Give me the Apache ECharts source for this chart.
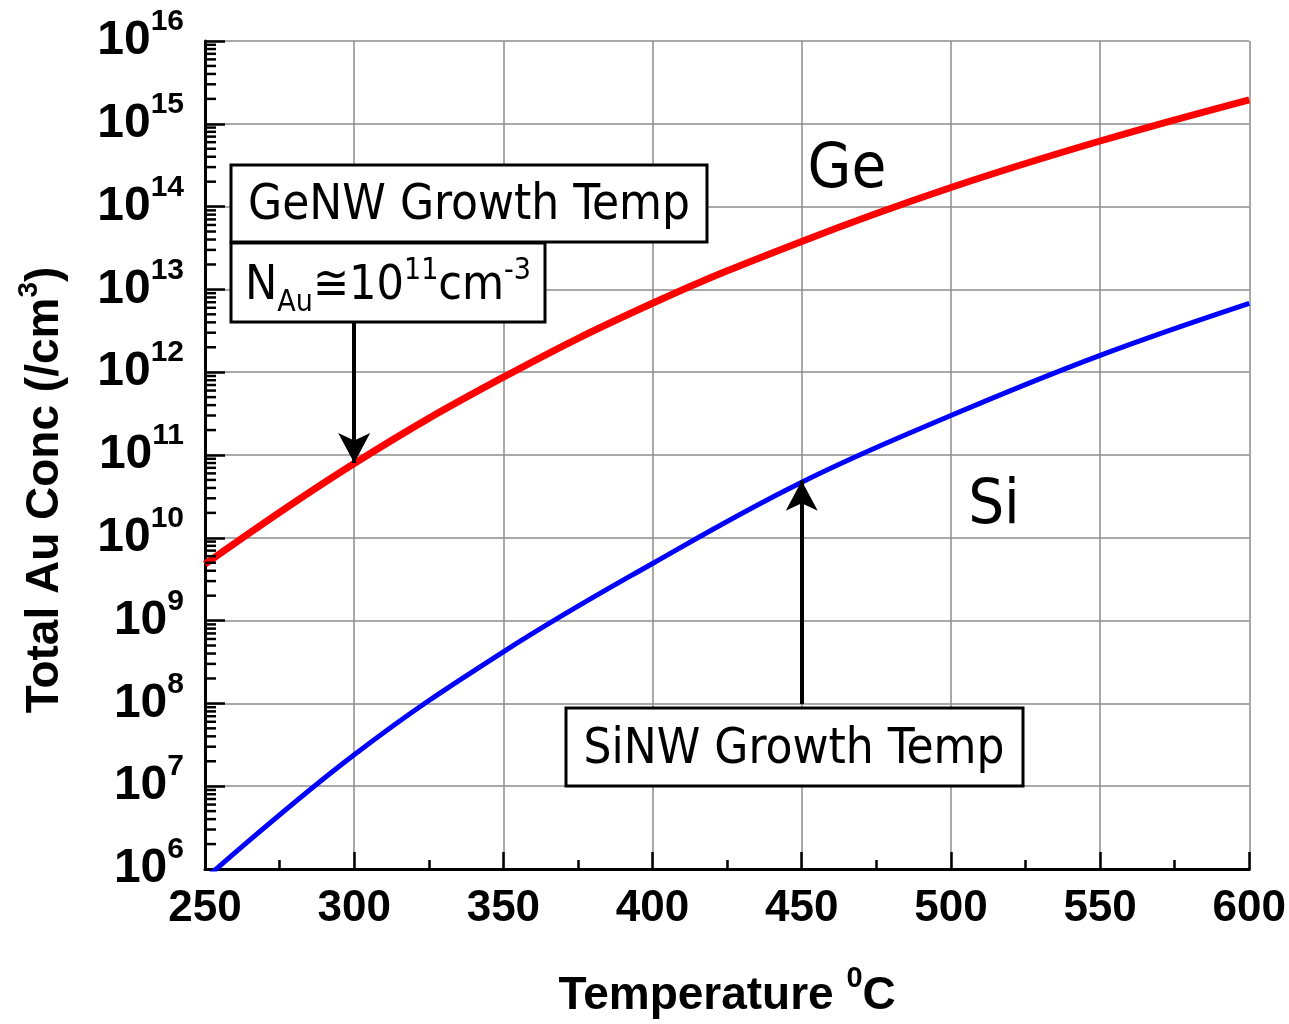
<!DOCTYPE html>
<html>
<head>
<meta charset="utf-8">
<script src="https://cdn.jsdelivr.net/npm/echarts@6/dist/echarts.min.js"></script>
<style>
  html, body { margin: 0; padding: 0; background: #fff; }
  #chart { width: 1289px; height: 1024px; }
</style>
</head>
<body>
<div id="chart"></div>
<script>
// temperatures (deg C) and total Au concentration (/cm3)
const temps  = [250, 300, 350, 400, 450, 500, 550, 600]
const geConc = [4.8e9, 7.9e10, 8.7e11, 6.8e12, 3.8e13, 1.7e14, 6.2e14, 1.95e15]
const siConc = [7.6e5, 2.4e7, 4.2e8, 4.9e9, 4.7e10, 3.0e11, 1.6e12, 6.8e12]

// growth temperature arrows: [temp, from, to]
const geArrow = [300, 4.3e12, 8.0e10]
const siArrow = [450, 9.8e7, 4.9e10]

// decades shown on the y axis (exponents)
const decades = [6, 7, 8, 9, 10, 11, 12, 13, 14, 15, 16]
const minorMult = [2, 3, 4, 5, 6, 7, 8, 9]

const boldFont = 'Liberation Sans'
const boxFont = '"DejaVu Sans Condensed", "DejaVu Sans", sans-serif'

const minorTicks = []
decades.slice(0, -1).forEach(d => {
  minorMult.forEach(m => minorTicks.push([250, m * Math.pow(10, d)]))
})

const chart = echarts.init(document.getElementById('chart'))

const option = {
  backgroundColor: '#fff',
  animation: false,
  grid: { left: 205, right: 38, top: 41, bottom: 150 },
  xAxis: {
    type: 'value',
    min: 250,
    max: 600,
    interval: 50,
    name: '{t|Temperature }{s|0}{t|C}',
    nameLocation: 'middle',
    nameGap: 95,
    nameTextStyle: {
      rich: {
        t: { fontFamily: boldFont, fontWeight: 'bold', fontSize: 46, color: '#000', lineHeight: 64 },
        s: { fontFamily: boldFont, fontWeight: 'bold', fontSize: 29, color: '#000', lineHeight: 29, verticalAlign: 'top' }
      }
    },
    axisLine: { lineStyle: { color: '#000', width: 3 } },
    axisTick: { inside: true, length: 17, lineStyle: { color: '#000', width: 2.5 } },
    minorTick: { show: true, splitNumber: 2, length: 9, lineStyle: { color: '#000', width: 2.5 } },
    axisLabel: {
      margin: 18,
      color: '#000',
      fontFamily: boldFont,
      fontWeight: 'bold',
      fontSize: 44
    },
    splitLine: { show: true, lineStyle: { color: '#8c8c8c', width: 1.5 } }
  },
  yAxis: {
    type: 'log',
    logBase: 10,
    min: 1e6,
    max: 1e16,
    interval: 1,
    splitNumber: 10,
    axisLine: { show: true, lineStyle: { color: '#000', width: 3 } },
    axisTick: { show: true, inside: true, length: 20, lineStyle: { color: '#000', width: 2.5 } },
    axisLabel: {
      margin: 21,
      formatter: v => '{a|10}{b|' + Math.round(Math.log10(v)) + '}',
      rich: {
        a: { fontFamily: boldFont, fontWeight: 'bold', fontSize: 48, color: '#000', lineHeight: 68 },
        b: { fontFamily: boldFont, fontWeight: 'bold', fontSize: 30, color: '#000', lineHeight: 30, verticalAlign: 'top' }
      }
    },
    splitLine: { show: true, lineStyle: { color: '#8c8c8c', width: 1.5 } }
  },
  series: [
    {
      name: 'Ge',
      type: 'line',
      smooth: 0.4,
      symbol: 'none',
      data: temps.map((t, i) => [t, geConc[i]]),
      lineStyle: { color: '#ff0000', width: 7 },
      z: 3,
      markLine: {
        silent: true,
        symbol: ['none', 'arrow'],
        symbolSize: [24, 30],
        label: { show: false },
        lineStyle: { color: '#000', width: 4, type: 'solid' },
        data: [
          [{ coord: [geArrow[0], geArrow[1]] }, { coord: [geArrow[0], geArrow[2]] }],
          [{ coord: [siArrow[0], siArrow[1]] }, { coord: [siArrow[0], siArrow[2]] }]
        ]
      }
    },
    {
      name: 'Si',
      type: 'line',
      smooth: 0.4,
      symbol: 'none',
      data: temps.map((t, i) => [t, siConc[i]]),
      lineStyle: { color: '#0000ff', width: 5 },
      z: 3
    },
    {
      // log minor ticks on the y axis
      type: 'custom',
      silent: true,
      data: minorTicks,
      z: 4,
      renderItem: (params, api) => {
        const p = api.coord([api.value(0), api.value(1)])
        return {
          type: 'line',
          shape: { x1: p[0], y1: p[1], x2: p[0] + 11, y2: p[1] },
          style: { stroke: '#000', lineWidth: 2.5 }
        }
      }
    }
  ],
  graphic: [
    {
      type: 'text',
      x: 45,
      y: 490,
      rotation: Math.PI / 2,
      style: {
        text: '{t|Total Au Conc (/cm}{s|3}{t|)}',
        align: 'center',
        verticalAlign: 'middle',
        rich: {
          t: { fontFamily: boldFont, fontWeight: 'bold', fontSize: 46, fill: '#000', lineHeight: 60 },
          s: { fontFamily: boldFont, fontWeight: 'bold', fontSize: 28, fill: '#000', lineHeight: 28, verticalAlign: 'top' }
        }
      }
    },
    // GeNW box
    {
      type: 'rect',
      shape: { x: 231, y: 165, width: 476, height: 77 },
      style: { fill: '#fff', stroke: '#000', lineWidth: 3 },
      z: 10
    },
    {
      type: 'text',
      x: 469,
      y: 206,
      z: 11,
      style: {
        text: 'GeNW Growth Temp',
        fontFamily: boxFont,
        fontSize: 49,
        fill: '#000',
        align: 'center',
        verticalAlign: 'middle'
      }
    },
    {
      type: 'rect',
      shape: { x: 231, y: 243, width: 314, height: 79 },
      style: { fill: '#fff', stroke: '#000', lineWidth: 3 },
      z: 10
    },
    {
      type: 'text',
      x: 388,
      y: 287,
      z: 11,
      style: {
        text: '{m|N}{sub|Au}{m|\u224510}{sup|11}{m|cm}{sup|-3}',
        align: 'center',
        verticalAlign: 'middle',
        rich: {
          m: { fontFamily: boxFont, fontSize: 48, fill: '#000', lineHeight: 62 },
          sub: { fontFamily: boxFont, fontSize: 30, fill: '#000', lineHeight: 30, verticalAlign: 'bottom' },
          sup: { fontFamily: boxFont, fontSize: 30, fill: '#000', lineHeight: 34, verticalAlign: 'top' }
        }
      }
    },
    // SiNW box
    {
      type: 'rect',
      shape: { x: 566, y: 708, width: 457, height: 78 },
      style: { fill: '#fff', stroke: '#000', lineWidth: 3 },
      z: 10
    },
    {
      type: 'text',
      x: 794,
      y: 750,
      z: 11,
      style: {
        text: 'SiNW Growth Temp',
        fontFamily: boxFont,
        fontSize: 49,
        fill: '#000',
        align: 'center',
        verticalAlign: 'middle'
      }
    },
    {
      type: 'text',
      x: 847,
      y: 171,
      z: 11,
      style: { text: 'Ge', fontFamily: boxFont, fontSize: 63, fill: '#000', align: 'center', verticalAlign: 'middle' }
    },
    {
      type: 'text',
      x: 994,
      y: 507,
      z: 11,
      style: { text: 'Si', fontFamily: boxFont, fontSize: 63, fill: '#000', align: 'center', verticalAlign: 'middle' }
    }
  ]
}

chart.setOption(option)
</script>
</body>
</html>
